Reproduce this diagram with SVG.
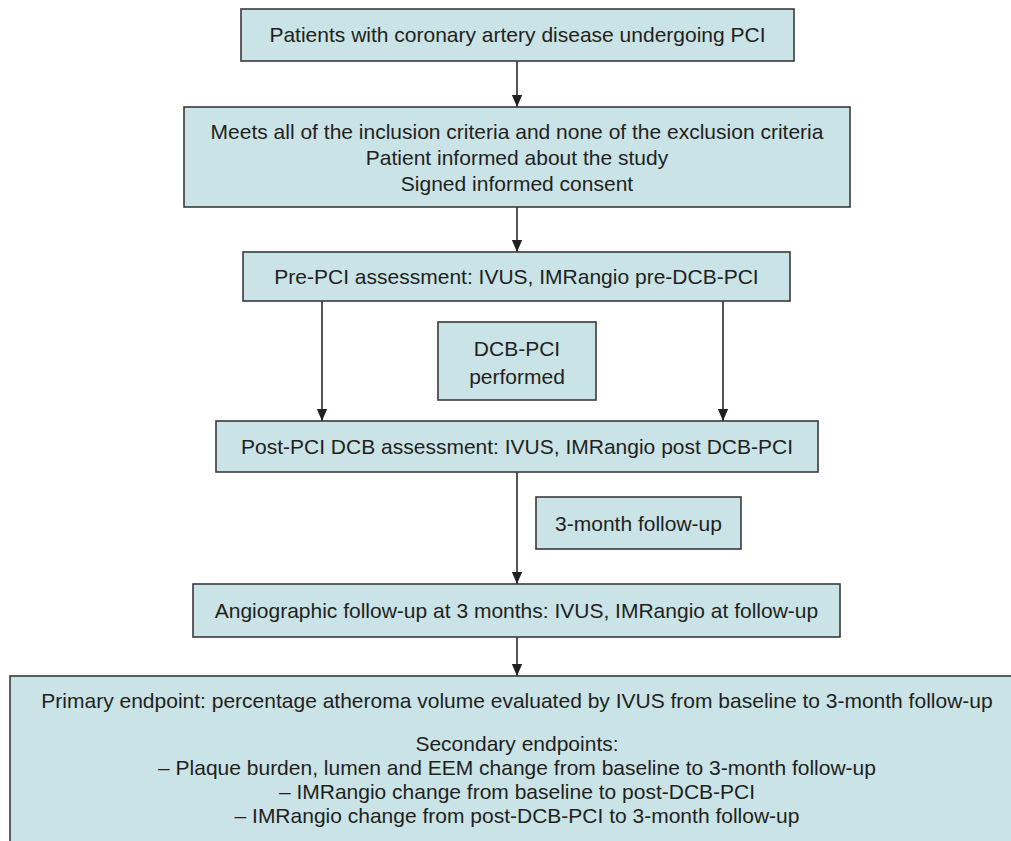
<svg xmlns="http://www.w3.org/2000/svg" width="1011" height="841" viewBox="0 0 1011 841">
<defs>
<marker id="ah" markerWidth="12" markerHeight="14" viewBox="0 0 14 12" refX="14" refY="6" orient="auto" markerUnits="userSpaceOnUse">
<path d="M0,0 L14,6 L0,12 Z" fill="#231f20"/>
</marker>
<style>
.box{fill:#c9e3e6;stroke:#3a3a3a;stroke-width:1.6}
.t{font-family:"Liberation Sans",Arial,sans-serif;font-size:21px;fill:#231f20;text-anchor:middle}
.c{stroke:#2a2a2a;stroke-width:1.6;fill:none;marker-end:url(#ah)}
</style>
</defs>
<rect width="1011" height="841" fill="#ffffff"/>
<g id="connectors">
<line class="c" x1="517" y1="61" x2="517" y2="107"/>
<line class="c" x1="517" y1="207" x2="517" y2="252"/>
<line class="c" x1="322" y1="301" x2="322" y2="421"/>
<line class="c" x1="723" y1="301" x2="723" y2="421"/>
<line class="c" x1="517" y1="472" x2="517" y2="584"/>
<line class="c" x1="517" y1="637" x2="517" y2="676"/>
</g>
<g id="n1">
<rect class="box" x="241" y="9" width="553" height="52"/>
<text class="t" x="517.5" y="42">Patients with coronary artery disease undergoing PCI</text>
</g>
<g id="n2">
<rect class="box" x="184" y="107" width="666" height="100"/>
<text class="t" x="517" y="139">Meets all of the inclusion criteria and none of the exclusion criteria</text>
<text class="t" x="517" y="165">Patient informed about the study</text>
<text class="t" x="517" y="191">Signed informed consent</text>
</g>
<g id="n3">
<rect class="box" x="243" y="252" width="547" height="49"/>
<text class="t" x="516.5" y="284">Pre-PCI assessment: IVUS, IMRangio pre-DCB-PCI</text>
</g>
<g id="n4">
<rect class="box" x="438" y="322" width="158" height="78"/>
<text class="t" x="517" y="356">DCB-PCI</text>
<text class="t" x="517" y="384">performed</text>
</g>
<g id="n5">
<rect class="box" x="216" y="421" width="602" height="51"/>
<text class="t" x="517" y="454">Post-PCI DCB assessment: IVUS, IMRangio post DCB-PCI</text>
</g>
<g id="n6">
<rect class="box" x="536" y="497" width="205" height="52"/>
<text class="t" x="638.5" y="531">3-month follow-up</text>
</g>
<g id="n7">
<rect class="box" x="193" y="584" width="647" height="53"/>
<text class="t" x="516.5" y="618">Angiographic follow-up at 3 months: IVUS, IMRangio at follow-up</text>
</g>
<g id="n8">
<rect class="box" x="10" y="676" width="1010" height="175"/>
<text class="t" x="517" y="708">Primary endpoint: percentage atheroma volume evaluated by IVUS from baseline to 3-month follow-up</text>
<text class="t" x="517" y="751">Secondary endpoints:</text>
<text class="t" x="517" y="775">– Plaque burden, lumen and EEM change from baseline to 3-month follow-up</text>
<text class="t" x="517" y="799">– IMRangio change from baseline to post-DCB-PCI</text>
<text class="t" x="517" y="823">– IMRangio change from post-DCB-PCI to 3-month follow-up</text>
</g>
</svg>
